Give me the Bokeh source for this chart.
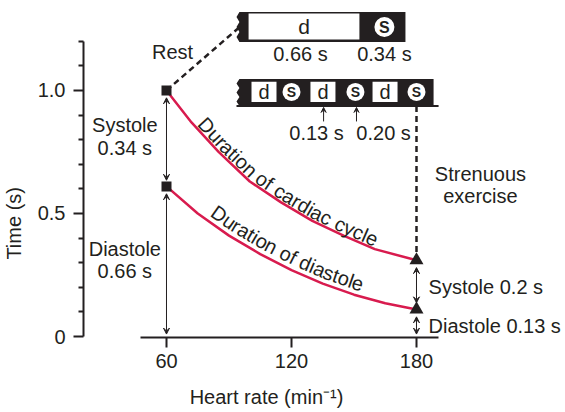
import math
from bokeh.plotting import figure
from bokeh.models import Range1d, FixedTicker, LinearAxis, Arrow, VeeHead
from bokeh.core.properties import value
from bokeh.embed import file_html
from bokeh.resources import INLINE

# ---------------- data ----------------
hr_cycle = [60, 72, 85, 100, 115, 130, 145, 160, 180]
t_cycle = [1.0, 0.87, 0.75, 0.63, 0.545, 0.47, 0.41, 0.355, 0.31]
hr_diast = [60, 75, 90, 105, 120, 135, 150, 165, 180]
t_diast = [0.61, 0.50, 0.41, 0.335, 0.27, 0.215, 0.17, 0.135, 0.11]
rest_hr, exer_hr = 60, 180
x_ticks = [60, 120, 180]
y_ticks = [0, 0.5, 1.0]
y_tick_labels = {0: "0", 0.5: "0.5", 1: "1.0"}
x_title, y_title = "Heart rate (min\u207b\u00b9)", "Time (s)"
rest_labels = ["0.66 s", "0.34 s"]
exer_labels = ["0.13 s", "0.20 s"]

INK = "#231f20"
RED = "#d81b4e"
FONT = "Liberation Sans"

W, H = 565, 412
BL, BB = 83, 75
X0 = 20.16
Y0 = -0.004
PXU, PYU = 2.0833, 246.07
FW, FH = W - BL, H - BB
X1 = X0 + FW / PXU
Y1 = Y0 + FH / PYU
SX, SY = FW / (X1 - X0), FH / (Y1 - Y0)

p = figure(width=W, height=H, x_range=Range1d(X0, X1), y_range=Range1d(Y0, Y1),
           output_backend="svg", toolbar_location=None,
           min_border_left=BL, min_border_right=0, min_border_top=0, min_border_bottom=BB)
p.outline_line_color = None
p.grid.visible = False
p.background_fill_color = "white"

def style_axis(ax):
    ax.axis_line_width = 2
    ax.axis_line_color = INK
    ax.major_tick_line_width = 2
    ax.major_tick_line_color = INK
    ax.minor_tick_line_width = 2
    ax.minor_tick_line_color = INK
    ax.major_tick_in = 0
    ax.major_tick_out = 10
    ax.minor_tick_in = 0
    ax.minor_tick_out = 5
    ax.major_label_text_font = FONT
    ax.major_label_text_font_size = "20px"
    ax.major_label_text_color = INK

# axes
xa = p.xaxis[0]
xa.ticker = FixedTicker(ticks=x_ticks, minor_ticks=[])
xa.bounds = (47.5, 190.5)
ya = p.yaxis[0]
ya.ticker = FixedTicker(ticks=y_ticks, minor_ticks=[0.1, 0.2, 0.3, 0.4, 0.6, 0.7, 0.8, 0.9, 1.1, 1.2])
ya.bounds = (0, 1.2)
ya.major_label_overrides = y_tick_labels
style_axis(xa)
style_axis(ya)
ya.major_label_standoff = 8
xa.major_label_standoff = 6

# axis titles carried by label-only axes (placed at a chosen position along the axis)
x_title_at, y_title_at = 108, 0.46
xt = LinearAxis(ticker=FixedTicker(ticks=[x_title_at], minor_ticks=[]),
                major_label_overrides={x_title_at: x_title})
style_axis(xt)
xt.axis_line_color = None
xt.major_tick_line_color = None
xt.major_tick_out = 8
xt.major_label_standoff = 7
p.add_layout(xt, "below")

yt = LinearAxis(ticker=FixedTicker(ticks=[y_title_at], minor_ticks=[]),
                major_label_overrides={y_title_at: y_title}, major_label_orientation="vertical")
style_axis(yt)
yt.axis_line_color = None
yt.major_tick_line_color = None
yt.major_tick_out = 4
yt.major_label_standoff = 5
p.add_layout(yt, "left")

def txt(x, y, s, size="20px", align="center", base="middle", style="normal", color=INK):
    p.text(x=[x], y=[y], text=[s], text_font=value(FONT), text_font_size=value(size),
           text_align=align, text_baseline=base, text_color=color, text_font_style=style)

# ---------------- schematic bars ----------------
def torn_bar(xl, xr, yb, yt_, n=6, amp=1.4):
    xs = [xr, xl + amp]
    ys = [yt_, yt_]
    for i in range(1, n):
        xs.append(xl if i % 2 else xl + amp)
        ys.append(yt_ - (yt_ - yb) * i / n)
    xs += [xl + amp, xr]
    ys += [yb, yb]
    return xs, ys

# top bar (rest)
tx, ty = torn_bar(93.6, 174.7, 1.197, 1.319)
p.patch(tx, ty, fill_color=INK, line_color=None)
p.quad(left=[99.4], right=[152.6], bottom=[1.207], top=[1.313], fill_color="white", line_color=None)
p.scatter([164.6], [1.258], marker="circle", size=20, fill_color="white", line_color=None)
txt(126.0, 1.258, "d", size="21px")
txt(164.6, 1.256, "S", size="16px", style="bold")
txt(124.3, 1.150, rest_labels[0])
txt(164.6, 1.150, rest_labels[1])

# middle bar (exercise)
mx, my = torn_bar(93.6, 188.2, 0.937, 1.047)
p.patch(mx, my, fill_color=INK, line_color=None)
p.line([93.6, 190.6], [0.937, 0.937], line_color=INK, line_width=2)
d_left = [100.8, 129.1, 158.9]
d_right = [112.8, 141.1, 170.9]
p.quad(left=d_left, right=d_right, bottom=[0.953] * 3, top=[1.035] * 3, fill_color="white", line_color=None)
s_cent = [120.0, 150.7, 180.0]
p.scatter(s_cent, [0.994] * 3, marker="circle", size=18, fill_color="white", line_color=None)
for a, b in zip(d_left, d_right):
    txt((a + b) / 2, 0.994, "d", size="20px")
for c in s_cent:
    txt(c, 0.992, "S", size="14px", style="bold")
for xa_ in (135.4, 151.2):
    p.add_layout(Arrow(x_start=xa_, y_start=0.874, x_end=xa_, y_end=0.931, line_width=1, line_color=INK,
                       end=VeeHead(size=5, fill_color=INK, line_color=INK)))
txt(132.0, 0.826, exer_labels[0])
txt(164.2, 0.826, exer_labels[1])

# dashed connectors
p.line([rest_hr, 94.6], [t_cycle[0], 1.254], line_color=INK, line_width=2.5, line_dash="6 4")
p.line([exer_hr, exer_hr], [0.937, t_cycle[-1]], line_color=INK, line_width=2.5, line_dash="6 4")

# ---------------- curves ----------------
p.line(hr_cycle, t_cycle, line_color=RED, line_width=2.5)
p.line(hr_diast, t_diast, line_color=RED, line_width=2.5)

p.scatter([rest_hr, rest_hr], [t_cycle[0], t_diast[0]], marker="square", size=10, fill_color=INK, line_color=None)
p.scatter([exer_hr, exer_hr], [t_cycle[-1], t_diast[-1]], marker="triangle", size=14, fill_color=INK, line_color=None)

# duration arrows
def darrow(x, y0, y1):
    p.add_layout(Arrow(x_start=x, y_start=y0, x_end=x, y_end=y1, line_width=1, line_color=INK,
                       start=VeeHead(size=6, fill_color=INK, line_color=INK),
                       end=VeeHead(size=6, fill_color=INK, line_color=INK)))

darrow(rest_hr, t_cycle[0] - 0.03, t_diast[0] + 0.025)
darrow(rest_hr, t_diast[0] - 0.03, 0.01)
darrow(exer_hr, t_cycle[-1] - 0.03, t_diast[-1] + 0.027)
darrow(exer_hr, t_diast[-1] - 0.03, 0.01)

# text labels
txt(62.9, 1.156, "Rest")
txt(40.0, 0.860, "Systole")
txt(40.0, 0.766, "0.34 s")
txt(40.0, 0.356, "Diastole")
txt(40.0, 0.266, "0.66 s")
txt(210.7, 0.660, "Strenuous")
txt(210.7, 0.571, "exercise")
txt(185.8, 0.201, "Systole 0.2 s", align="left")
txt(185.8, 0.043, "Diastole 0.13 s", align="left")

# ---------------- text along curves ----------------
CW = {'D': 0.722, 'u': 0.556, 'r': 0.333, 'a': 0.556, 't': 0.278, 'i': 0.222, 'o': 0.556,
      'n': 0.556, ' ': 0.278, 'f': 0.278, 'c': 0.5, 'd': 0.556, 'y': 0.5, 'l': 0.222,
      'e': 0.556, 's': 0.5}

def curve_text(xs, ys, label, s0, off, fs=20):
    P = [((x - X0) * SX, (y - Y0) * SY) for x, y in zip(xs, ys)]
    cum = [0.0]
    for i in range(1, len(P)):
        cum.append(cum[-1] + math.hypot(P[i][0] - P[i - 1][0], P[i][1] - P[i - 1][1]))
    def at(s):
        for i in range(1, len(P)):
            if s <= cum[i] or i == len(P) - 1:
                seg = cum[i] - cum[i - 1]
                f = (s - cum[i - 1]) / seg
                x = P[i - 1][0] + f * (P[i][0] - P[i - 1][0])
                y = P[i - 1][1] + f * (P[i][1] - P[i - 1][1])
                ang = math.atan2(P[i][1] - P[i - 1][1], P[i][0] - P[i - 1][0])
                return x, y, ang
    cx, cy, ca, ct = [], [], [], []
    s = s0
    for ch in label:
        w = CW.get(ch, 0.55) * fs
        x, y, ang = at(s + w / 2)
        nx, ny = -math.sin(ang), math.cos(ang)
        cx.append((x + nx * off) / SX + X0)
        cy.append((y + ny * off) / SY + Y0)
        ca.append(ang)
        ct.append(ch)
        s += w
    p.text(x=cx, y=cy, text=ct, angle=ca, text_font=value(FONT), text_font_size=value(f"{fs}px"),
           text_align="center", text_baseline="alphabetic", text_color=INK)

curve_text(hr_cycle, t_cycle, "Duration of cardiac cycle", 46, 9)
curve_text(hr_diast, t_diast, "Duration of diastole", 52, 12)

open("out.html", "w").write(file_html(p, INLINE))
